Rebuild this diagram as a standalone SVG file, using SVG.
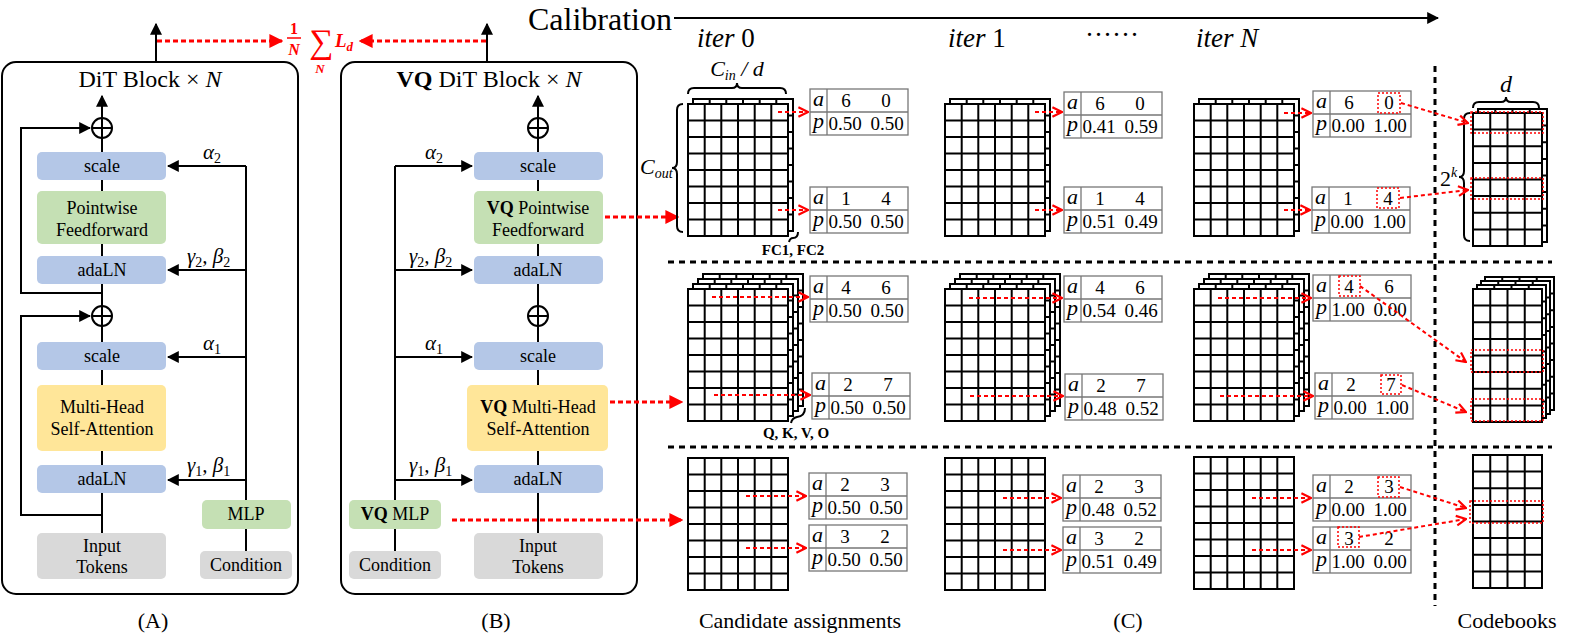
<svg xmlns="http://www.w3.org/2000/svg" xmlns:xlink="http://www.w3.org/1999/xlink" width="1577" height="638" viewBox="0 0 1577 638" font-family="'Liberation Serif', serif">
<style>
text{font-family:'Liberation Serif',serif;fill:#000}
.b{font-size:18px;text-anchor:middle}
.tv{font-size:19px;text-anchor:middle}
.ti{font-size:22px;font-style:italic;text-anchor:middle}
.lbl{font-size:22px;text-anchor:middle}
.gr{font-size:21px;font-style:italic}
.sb{font-size:14px;font-style:normal}
.ln{stroke:#000;stroke-width:2;fill:none}
.rd{stroke:#f00;stroke-width:2;stroke-dasharray:4 3;fill:none}
.rd3{stroke:#f00;stroke-width:3;stroke-dasharray:5 3;fill:none}
.hb{stroke:#f00;stroke-width:1.5;stroke-dasharray:2 2;fill:none}
.blue{fill:#b4c7e7}.green{fill:#c5e0b4}.yel{fill:#ffe699}.grey{fill:#d9d9d9}
.dv{stroke:#000;stroke-width:3;stroke-dasharray:6 5;fill:none}
</style>
<defs>
<marker id="bk" viewBox="0 0 10 10" refX="9" refY="5" markerWidth="12" markerHeight="12" markerUnits="userSpaceOnUse" orient="auto"><path d="M0 0L10 5L0 10z" fill="#000"/></marker>
<marker id="rf" viewBox="0 0 10 10" refX="9" refY="5" markerWidth="14" markerHeight="14" markerUnits="userSpaceOnUse" orient="auto"><path d="M0 0L10 5L0 10z" fill="#f00"/></marker>
<marker id="rc" viewBox="0 0 10 10" refX="9" refY="5" markerWidth="12" markerHeight="12" markerUnits="userSpaceOnUse" orient="auto"><path d="M1 1L9 5L1 9" fill="none" stroke="#f00" stroke-width="1.8"/></marker>
<g id="g6"><rect width="100" height="132" fill="#fff" stroke="#000" stroke-width="2"/><path d="M16.7 0V132M33.3 0V132M50 0V132M66.7 0V132M83.3 0V132M0 16.5H100M0 33H100M0 49.5H100M0 66H100M0 82.5H100M0 99H100M0 115.5H100" stroke="#000" stroke-width="2"/></g>
<g id="g4"><rect width="69" height="133" fill="#fff" stroke="#000" stroke-width="2"/><path d="M17.25 0V133M34.5 0V133M51.75 0V133M0 16.6H69M0 33.2H69M0 49.9H69M0 66.5H69M0 83.1H69M0 99.8H69M0 116.4H69" stroke="#000" stroke-width="2"/></g>
<g id="tb"><rect width="98" height="46" fill="#fff" stroke="#777" stroke-width="1.3"/><path d="M0 23H98M17 0V46" stroke="#777" stroke-width="1.3"/><text x="8.5" y="17" class="ti">a</text><text x="8.5" y="39" class="ti">p</text></g>
</defs>

<!-- Panel A -->
<g id="panelA">
<rect x="2" y="62" width="296" height="532" rx="14" class="ln"/>
<text x="150" y="87" font-size="24" text-anchor="middle">DiT Block × <tspan font-style="italic">N</tspan></text>
</g>
<g id="A_scale2"><rect x="37" y="152" width="129" height="28" rx="5" class="blue"/><text x="102" y="172" class="b">scale</text></g>
<g id="A_ff"><rect x="37" y="191" width="129" height="53" rx="5" class="green"/><text x="102" y="214" class="b">Pointwise</text><text x="102" y="236" class="b">Feedforward</text></g>
<g id="A_ada2"><rect x="37" y="256" width="129" height="28" rx="5" class="blue"/><text x="102" y="276" class="b">adaLN</text></g>
<g id="A_scale1"><rect x="37" y="342" width="129" height="28" rx="5" class="blue"/><text x="102" y="362" class="b">scale</text></g>
<g id="A_mhsa"><rect x="37" y="385" width="129" height="66" rx="5" class="yel"/><text x="102" y="413" class="b">Multi-Head</text><text x="102" y="435" class="b">Self-Attention</text></g>
<g id="A_ada1"><rect x="37" y="465" width="129" height="28" rx="5" class="blue"/><text x="102" y="485" class="b">adaLN</text></g>
<g id="A_in"><rect x="37" y="533" width="129" height="46" rx="5" class="grey"/><text x="102" y="552" class="b">Input</text><text x="102" y="573" class="b">Tokens</text></g>
<g id="A_mlp"><rect x="202" y="500" width="89" height="29" rx="5" class="green"/><text x="246" y="520" class="b">MLP</text></g>
<g id="A_cond"><rect x="200" y="551" width="92" height="28" rx="5" class="grey"/><text x="246" y="571" class="b">Condition</text></g>
<g id="A_plus2"><circle cx="102" cy="128" r="10" fill="#fff" class="ln"/><path d="M92 128H112M102 118V138" class="ln"/></g>
<g id="A_plus1"><circle cx="102" cy="316" r="10" fill="#fff" class="ln"/><path d="M92 316H112M102 306V326" class="ln"/></g>

<!-- Panel B -->
<g id="panelB">
<rect x="341" y="62" width="296" height="532" rx="14" class="ln"/>
<text x="489" y="87" font-size="24" text-anchor="middle"><tspan font-weight="bold">VQ</tspan> DiT Block × <tspan font-style="italic">N</tspan></text>
</g>
<g id="B_scale2"><rect x="474" y="152" width="129" height="28" rx="5" class="blue"/><text x="538" y="172" class="b">scale</text></g>
<g id="B_ff"><rect x="474" y="191" width="129" height="53" rx="5" class="green"/><text x="538" y="214" class="b"><tspan font-weight="bold">VQ</tspan> Pointwise</text><text x="538" y="236" class="b">Feedforward</text></g>
<g id="B_ada2"><rect x="474" y="256" width="129" height="28" rx="5" class="blue"/><text x="538" y="276" class="b">adaLN</text></g>
<g id="B_scale1"><rect x="474" y="342" width="129" height="28" rx="5" class="blue"/><text x="538" y="362" class="b">scale</text></g>
<g id="B_mhsa"><rect x="467" y="385" width="141" height="66" rx="5" class="yel"/><text x="538" y="413" class="b"><tspan font-weight="bold">VQ</tspan> Multi-Head</text><text x="538" y="435" class="b">Self-Attention</text></g>
<g id="B_ada1"><rect x="474" y="465" width="129" height="28" rx="5" class="blue"/><text x="538" y="485" class="b">adaLN</text></g>
<g id="B_in"><rect x="474" y="533" width="129" height="46" rx="5" class="grey"/><text x="538" y="552" class="b">Input</text><text x="538" y="573" class="b">Tokens</text></g>
<g id="B_mlp"><rect x="349" y="500" width="92" height="29" rx="5" class="green"/><text x="395" y="520" class="b"><tspan font-weight="bold">VQ</tspan> MLP</text></g>
<g id="B_cond"><rect x="349" y="551" width="92" height="28" rx="5" class="grey"/><text x="395" y="571" class="b">Condition</text></g>
<g id="B_plus2"><circle cx="538" cy="128" r="10" fill="#fff" class="ln"/><path d="M528 128H548M538 118V138" class="ln"/></g>
<g id="B_plus1"><circle cx="538" cy="316" r="10" fill="#fff" class="ln"/><path d="M528 316H548M538 306V326" class="ln"/></g>

<!-- Connectors -->
<g id="connectors">
<path d="M156 62V24" class="ln" marker-end="url(#bk)"/>
<path d="M487 62V24" class="ln" marker-end="url(#bk)"/>
<path d="M102 118V96" class="ln" marker-end="url(#bk)"/>
<path d="M538 118V96" class="ln" marker-end="url(#bk)"/>
<path d="M102 138V152M102 180V191M102 244V256M102 284V306M102 326V342M102 370V385M102 451V465M102 493V533" class="ln"/>
<path d="M538 138V152M538 180V191M538 244V256M538 284V306M538 326V342M538 370V385M538 451V465M538 493V533" class="ln"/>
<path d="M102 293H21V128H90" class="ln" marker-end="url(#bk)"/>
<path d="M102 515H21V316H90" class="ln" marker-end="url(#bk)"/>
<path d="M246 500V166M246 529V551" class="ln"/>
<path d="M246 166H168" class="ln" marker-end="url(#bk)"/>
<path d="M246 270H168" class="ln" marker-end="url(#bk)"/>
<path d="M246 357H168" class="ln" marker-end="url(#bk)"/>
<path d="M246 480H168" class="ln" marker-end="url(#bk)"/>
<path d="M395 500V166M395 529V551" class="ln"/>
<path d="M395 166H472" class="ln" marker-end="url(#bk)"/>
<path d="M395 270H472" class="ln" marker-end="url(#bk)"/>
<path d="M395 357H472" class="ln" marker-end="url(#bk)"/>
<path d="M395 480H472" class="ln" marker-end="url(#bk)"/>
<path d="M157 41H282" class="rd3" marker-end="url(#rf)"/>
<path d="M486 41H360" class="rd3" marker-end="url(#rf)"/>
<path d="M605 217H678" class="rd3" marker-end="url(#rf)"/>
<path d="M610 402H682" class="rd3" marker-end="url(#rf)"/>
<path d="M452 520H682" class="rd3" marker-end="url(#rf)"/>
<path d="M674 18H1438" class="ln" marker-end="url(#bk)"/>
</g>
<text x="203" y="159" class="gr">α<tspan class="sb" dy="4">2</tspan></text>
<text x="187" y="263" class="gr">γ<tspan class="sb" dy="4">2</tspan><tspan dy="-4">, β</tspan><tspan class="sb" dy="4">2</tspan></text>
<text x="203" y="350" class="gr">α<tspan class="sb" dy="4">1</tspan></text>
<text x="187" y="472" class="gr">γ<tspan class="sb" dy="4">1</tspan><tspan dy="-4">, β</tspan><tspan class="sb" dy="4">1</tspan></text>
<text x="425" y="159" class="gr">α<tspan class="sb" dy="4">2</tspan></text>
<text x="409" y="263" class="gr">γ<tspan class="sb" dy="4">2</tspan><tspan dy="-4">, β</tspan><tspan class="sb" dy="4">2</tspan></text>
<text x="425" y="350" class="gr">α<tspan class="sb" dy="4">1</tspan></text>
<text x="409" y="472" class="gr">γ<tspan class="sb" dy="4">1</tspan><tspan dy="-4">, β</tspan><tspan class="sb" dy="4">1</tspan></text>

<!-- Loss formula -->
<g id="loss">
<text x="294" y="34" font-size="16" font-weight="bold" text-anchor="middle" style="fill:#f00">1</text>
<path d="M287 38H301" stroke="#f00" stroke-width="1.5"/>
<text x="294" y="55" font-size="16" font-weight="bold" font-style="italic" text-anchor="middle" style="fill:#f00">N</text>
<text x="321" y="53" font-size="34" text-anchor="middle" style="fill:#f00">∑</text>
<text x="320" y="73" font-size="13" font-weight="bold" font-style="italic" text-anchor="middle" style="fill:#f00">N</text>
<text x="335" y="47" font-size="19" font-weight="bold" font-style="italic" style="fill:#f00">L<tspan font-size="13" dy="4">d</tspan></text>
</g>

<!-- Panel C header -->
<text x="528" y="30" font-size="32">Calibration</text>
<text x="697" y="47" font-size="27"><tspan font-style="italic">iter</tspan> 0</text>
<text x="948" y="47" font-size="27"><tspan font-style="italic">iter</tspan> 1</text>
<text x="1085" y="44" font-size="27">······</text>
<text x="1196" y="47" font-size="27"><tspan font-style="italic">iter N</tspan></text>

<!-- separators -->
<path d="M668 262H1552M668 447H1552" class="dv"/>
<path d="M1435 66V606" class="dv"/>

<!-- Row 1: FC matrices -->
<g id="m_ff0"><use href="#g6" x="693" y="99"/><use href="#g6" x="688" y="104"/>
<path d="M688 94q0 -6 6 -6h38q5 0 5 -5q0 5 5 5h38q6 0 6 6" class="ln" stroke-width="1.5"/>
<text x="737" y="76" font-size="22" font-style="italic" text-anchor="middle">C<tspan font-size="14" dy="4">in</tspan><tspan dy="-4"> / d</tspan></text>
<path d="M683 104q-6 0 -6 6v52q0 6 -5 6q5 0 5 6v52q0 6 6 6" class="ln" stroke-width="1.5"/>
<text x="640" y="174" font-size="22" font-style="italic">C<tspan font-size="14" dy="4">out</tspan></text>
<path d="M798 232q0 6 -5 6q-3 0 -4 4" class="ln" stroke-width="1.5"/>
<text x="793" y="255" font-size="15" font-weight="bold" text-anchor="middle">FC1, FC2</text></g>
<g id="m_ff1"><use href="#g6" x="950" y="99"/><use href="#g6" x="945" y="104"/></g>
<g id="m_ffN"><use href="#g6" x="1199" y="99"/><use href="#g6" x="1194" y="104"/></g>

<!-- Row 2: attention matrices -->
<g id="m_at0"><use href="#g6" x="703" y="274"/><use href="#g6" x="698" y="279"/><use href="#g6" x="693" y="284"/><use href="#g6" x="688" y="289"/>
<path d="M805 408q0 8 -8 9q-5 1 -6 6" class="ln" stroke-width="1.5"/>
<text x="796" y="438" font-size="15" font-weight="bold" text-anchor="middle">Q, K, V, O</text></g>
<g id="m_at1"><use href="#g6" x="960" y="274"/><use href="#g6" x="955" y="279"/><use href="#g6" x="950" y="284"/><use href="#g6" x="945" y="289"/></g>
<g id="m_atN"><use href="#g6" x="1209" y="274"/><use href="#g6" x="1204" y="279"/><use href="#g6" x="1199" y="284"/><use href="#g6" x="1194" y="289"/></g>

<!-- Row 3: MLP matrices -->
<g id="m_mlp0"><use href="#g6" x="688" y="458"/></g>
<g id="m_mlp1"><use href="#g6" x="945" y="458"/></g>
<g id="m_mlpN"><use href="#g6" x="1194" y="457"/></g>

<!-- Codebooks -->
<g id="cb1"><use href="#g4" x="1478" y="109"/><use href="#g4" x="1473" y="113"/>
<path d="M1473 108q0 -6 6 -6h22q5 0 5 -5q0 5 5 5h22q6 0 6 6" class="ln" stroke-width="1.5"/>
<text x="1506" y="92" font-size="24" font-style="italic" text-anchor="middle">d</text>
<path d="M1470 113q-6 0 -6 6v52q0 6 -5 6q5 0 5 6v52q0 6 6 6" class="ln" stroke-width="1.5"/>
<text x="1440" y="186" font-size="22">2<tspan font-size="14" dy="-9" font-style="italic">k</tspan></text>
<rect x="1471" y="112" width="72" height="21" class="hb"/><rect x="1471" y="178" width="72" height="21" class="hb"/></g>
<g id="cb2"><use href="#g4" x="1485" y="277"/><use href="#g4" x="1481" y="281"/><use href="#g4" x="1477" y="285"/><use href="#g4" x="1473" y="289"/>
<rect x="1471" y="350" width="72" height="22" class="hb"/><rect x="1471" y="399" width="72" height="22" class="hb"/></g>
<g id="cb3"><use href="#g4" x="1473" y="455"/><rect x="1470" y="501" width="73" height="22" class="hb"/></g>

<!-- Tables -->
<g>
<g transform="translate(810,89)"><use href="#tb"/><text x="36" y="18" class="tv">6</text><text x="76" y="18" class="tv">0</text><text x="35" y="41" class="tv">0.50</text><text x="77" y="41" class="tv">0.50</text></g>
<g transform="translate(810,187)"><use href="#tb"/><text x="36" y="18" class="tv">1</text><text x="76" y="18" class="tv">4</text><text x="35" y="41" class="tv">0.50</text><text x="77" y="41" class="tv">0.50</text></g>
<g transform="translate(1064,92)"><use href="#tb"/><text x="36" y="18" class="tv">6</text><text x="76" y="18" class="tv">0</text><text x="35" y="41" class="tv">0.41</text><text x="77" y="41" class="tv">0.59</text></g>
<g transform="translate(1064,187)"><use href="#tb"/><text x="36" y="18" class="tv">1</text><text x="76" y="18" class="tv">4</text><text x="35" y="41" class="tv">0.51</text><text x="77" y="41" class="tv">0.49</text></g>
<g transform="translate(1313,91)"><use href="#tb"/><text x="36" y="18" class="tv">6</text><text x="76" y="18" class="tv">0</text><text x="35" y="41" class="tv">0.00</text><text x="77" y="41" class="tv">1.00</text></g>
<g transform="translate(1312,187)"><use href="#tb"/><text x="36" y="18" class="tv">1</text><text x="76" y="18" class="tv">4</text><text x="35" y="41" class="tv">0.00</text><text x="77" y="41" class="tv">1.00</text></g>

<g transform="translate(810,276)"><use href="#tb"/><text x="36" y="18" class="tv">4</text><text x="76" y="18" class="tv">6</text><text x="35" y="41" class="tv">0.50</text><text x="77" y="41" class="tv">0.50</text></g>
<g transform="translate(812,373)"><use href="#tb"/><text x="36" y="18" class="tv">2</text><text x="76" y="18" class="tv">7</text><text x="35" y="41" class="tv">0.50</text><text x="77" y="41" class="tv">0.50</text></g>
<g transform="translate(1064,276)"><use href="#tb"/><text x="36" y="18" class="tv">4</text><text x="76" y="18" class="tv">6</text><text x="35" y="41" class="tv">0.54</text><text x="77" y="41" class="tv">0.46</text></g>
<g transform="translate(1065,374)"><use href="#tb"/><text x="36" y="18" class="tv">2</text><text x="76" y="18" class="tv">7</text><text x="35" y="41" class="tv">0.48</text><text x="77" y="41" class="tv">0.52</text></g>
<g transform="translate(1313,275)"><use href="#tb"/><text x="36" y="18" class="tv">4</text><text x="76" y="18" class="tv">6</text><text x="35" y="41" class="tv">1.00</text><text x="77" y="41" class="tv">0.00</text></g>
<g transform="translate(1315,373)"><use href="#tb"/><text x="36" y="18" class="tv">2</text><text x="76" y="18" class="tv">7</text><text x="35" y="41" class="tv">0.00</text><text x="77" y="41" class="tv">1.00</text></g>

<g transform="translate(809,473)"><use href="#tb"/><text x="36" y="18" class="tv">2</text><text x="76" y="18" class="tv">3</text><text x="35" y="41" class="tv">0.50</text><text x="77" y="41" class="tv">0.50</text></g>
<g transform="translate(809,525)"><use href="#tb"/><text x="36" y="18" class="tv">3</text><text x="76" y="18" class="tv">2</text><text x="35" y="41" class="tv">0.50</text><text x="77" y="41" class="tv">0.50</text></g>
<g transform="translate(1063,475)"><use href="#tb"/><text x="36" y="18" class="tv">2</text><text x="76" y="18" class="tv">3</text><text x="35" y="41" class="tv">0.48</text><text x="77" y="41" class="tv">0.52</text></g>
<g transform="translate(1063,527)"><use href="#tb"/><text x="36" y="18" class="tv">3</text><text x="76" y="18" class="tv">2</text><text x="35" y="41" class="tv">0.51</text><text x="77" y="41" class="tv">0.49</text></g>
<g transform="translate(1313,475)"><use href="#tb"/><text x="36" y="18" class="tv">2</text><text x="76" y="18" class="tv">3</text><text x="35" y="41" class="tv">0.00</text><text x="77" y="41" class="tv">1.00</text></g>
<g transform="translate(1313,527)"><use href="#tb"/><text x="36" y="18" class="tv">3</text><text x="76" y="18" class="tv">2</text><text x="35" y="41" class="tv">1.00</text><text x="77" y="41" class="tv">0.00</text></g>
</g>

<!-- highlight boxes in tables -->
<rect x="1378" y="93" width="22" height="20" class="hb"/>
<rect x="1377" y="188" width="22" height="20" class="hb"/>
<rect x="1339" y="276" width="21" height="20" class="hb"/>
<rect x="1381" y="375" width="20" height="19" class="hb"/>
<rect x="1378" y="477" width="21" height="20" class="hb"/>
<rect x="1338" y="527" width="21" height="20" class="hb"/>

<!-- red dashed arrows in C -->
<g id="c_arrows">
<path d="M778 112H808" class="rd" marker-end="url(#rc)"/>
<path d="M778 210H808" class="rd" marker-end="url(#rc)"/>
<path d="M1035 112H1062" class="rd" marker-end="url(#rc)"/>
<path d="M1035 210H1062" class="rd" marker-end="url(#rc)"/>
<path d="M1284 113H1311" class="rd" marker-end="url(#rc)"/>
<path d="M1284 210H1310" class="rd" marker-end="url(#rc)"/>
<path d="M712 297H808" class="rd" marker-end="url(#rc)"/>
<path d="M714 395H810" class="rd" marker-end="url(#rc)"/>
<path d="M969 298H1062" class="rd" marker-end="url(#rc)"/>
<path d="M970 396H1063" class="rd" marker-end="url(#rc)"/>
<path d="M1218 298H1311" class="rd" marker-end="url(#rc)"/>
<path d="M1220 396H1313" class="rd" marker-end="url(#rc)"/>
<path d="M746 496H806" class="rd" marker-end="url(#rc)"/>
<path d="M746 548H806" class="rd" marker-end="url(#rc)"/>
<path d="M1003 498H1061" class="rd" marker-end="url(#rc)"/>
<path d="M1003 550H1061" class="rd" marker-end="url(#rc)"/>
<path d="M1252 498H1311" class="rd" marker-end="url(#rc)"/>
<path d="M1252 550H1311" class="rd" marker-end="url(#rc)"/>
<path d="M1401 103L1468 123" class="rd" marker-end="url(#rc)"/>
<path d="M1400 198L1468 190" class="rd" marker-end="url(#rc)"/>
<path d="M1360 286L1466 362" class="rd" marker-end="url(#rc)"/>
<path d="M1402 385L1466 412" class="rd" marker-end="url(#rc)"/>
<path d="M1400 487L1466 508" class="rd" marker-end="url(#rc)"/>
<path d="M1359 537L1466 519" class="rd" marker-end="url(#rc)"/>
</g>

<!-- captions -->
<text x="153" y="628" class="lbl">(A)</text>
<text x="496" y="628" class="lbl">(B)</text>
<text x="800" y="628" class="lbl">Candidate assignments</text>
<text x="1128" y="628" class="lbl">(C)</text>
<text x="1507" y="628" class="lbl">Codebooks</text>
</svg>
